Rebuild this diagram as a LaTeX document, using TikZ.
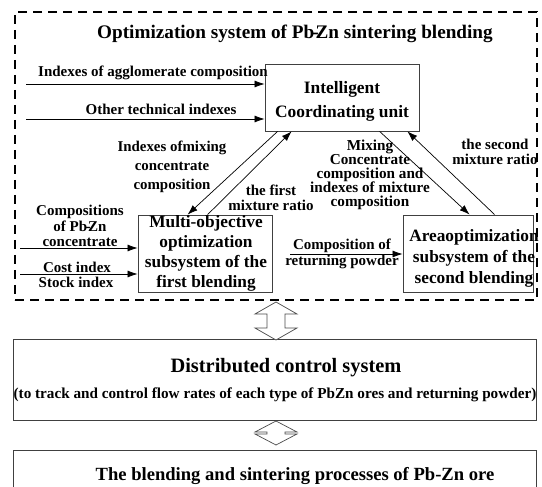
\documentclass[tikz,border=0pt]{standalone}
\usepackage{fontspec}
\setmainfont{Liberation Serif}
\usetikzlibrary{arrows.meta,calc}
\begin{document}
\begin{tikzpicture}[x=1pt,y=-1pt,
  blk/.style={draw=black!75, line width=0.8pt, inner sep=0pt},
  lbl/.style={font=\bfseries\fontsize{15}{15.5}\selectfont, align=center, inner sep=0pt},
  big/.style={font=\bfseries\fontsize{17.3}{20}\selectfont, align=center, inner sep=0pt},
  arr/.style={-{Latex[length=10pt,width=7pt]}, line width=0.7pt},
  hollow/.style={draw=black!70, fill=white, line width=0.7pt, line join=miter}]
\useasboundingbox (0,0) rectangle (542,487);
\clip (0,0) rectangle (542,487);

% optimization system frame
\node[draw, line width=2.6pt, dash pattern=on 9pt off 6pt, minimum width=522pt,
      minimum height=288pt, inner sep=0pt] (opt) at (276,156) {};
\node[font=\bfseries\fontsize{19.2}{21}\selectfont, inner sep=0pt] (title) at (295,34)
  {Optimization system of Pb\kern-2pt-\kern-3ptZn sintering blending};

% blocks
\node[blk, minimum width=154pt, minimum height=67pt] (intel) at (342,97.5) {};
\node[big, font=\bfseries\fontsize{17.4}{24}\selectfont] (inteltxt) at (342,101) {Intelligent\\Coordinating unit};
\node[blk, minimum width=134pt, minimum height=77pt] (multi) at (205,253.5) {};
\node[big] (multitxt) at (206,253) {Multi-objective\\optimization\\subsystem of the\\first blending};
\node[blk, minimum width=130pt, minimum height=77pt] (area) at (468,253.5) {};
\node[big, font=\bfseries\fontsize{17.3}{21}\selectfont] (areatxt) at (474,258) {Areaoptimization\\subsystem of the\\second blending};

\node[blk, minimum width=523pt, minimum height=81pt] (dcs) at (274.5,379.5) {};
\node[font=\bfseries\fontsize{20.4}{22}\selectfont, inner sep=0pt] (dcstxt) at (286,368) {Distributed control system};
\node[font=\bfseries\fontsize{15.2}{16}\selectfont, inner sep=0pt] (dcssub) at (275,395)
  {(to track and control flow rates of each type of PbZn ores and returning powder)};
\node[blk, minimum width=523pt, minimum height=80pt] (proc) at (274.5,490) {};
\node[font=\bfseries\fontsize{18.6}{20}\selectfont, inner sep=0pt] (proctxt) at (295,476)
  {The blending and sintering processes of Pb-Zn ore};

% external inputs
\coordinate (in1) at (26,84);
\coordinate (in2) at (26,119);
\coordinate (in3) at (20,248);
\coordinate (in4) at (20,274);
\coordinate (in5) at (290,254);
\draw[arr] (in1) -- (in1 -| intel.west);
\draw[arr] (in2) -- (in2 -| intel.west);
\draw[arr] (in3) -- (in3 -| multi.west);
\draw[arr] (in4) -- (in4 -| multi.west);
\draw[arr] (in5) -- (in5 -| area.west);

\node[lbl] (l1) at (153,73) {Indexes of agglomerate composition};
\node[lbl] (l2) at (161,109) {Other technical indexes};
\node[lbl, font=\bfseries\fontsize{15}{15.5}\selectfont] (l3) at (80,226) {Compositions\\of Pb\kern-1.5pt-\kern-2.5ptZn\\concentrate};
\node[lbl] (l4) at (77,267) {Cost index};
\node[lbl] (l5) at (76,282) {Stock index};
\node[lbl, font=\bfseries\fontsize{15}{16}\selectfont] (l6) at (342,254) {Composition of\\returning powder};

% exchanges with the coordinating unit
\draw[arr] ($(intel.south west)+(13,0)$) -- ($(multi.north west)+(50,0)$);
\draw[arr] ($(multi.north west)+(70,0)$) -- ($(intel.south west)+(27,0)$);
\draw[arr] ($(intel.south west)+(115,0)$) -- ($(area.north west)+(67,0)$);
\draw[arr] ($(area.north west)+(92,0)$) -- ($(intel.south east)+(-12,0)$);

\node[lbl, font=\bfseries\fontsize{14.9}{19}\selectfont] (l7) at (172,167) {Indexes ofmixing\\concentrate\\composition};
\node[lbl] (l8) at (271,198) {the first\\mixture ratio};
\node[lbl, font=\bfseries\fontsize{15.2}{14}\selectfont] (l9) at (370,175) {Mixing\\Concentrate\\composition and\\indexes of mixture\\composition};
\node[lbl, font=\bfseries\fontsize{15}{14.5}\selectfont] (l10) at (495,152) {the second\\mixture ratio};

% hollow two-way arrows between the levels
\draw[hollow] (276,302) -- (297,314) -- (285,314) -- (285,328) -- (297,328) -- (276,340)
  -- (255,328) -- (267,328) -- (267,314) -- (255,314) -- cycle;
\draw[hollow] (276,421) -- (297,432) -- (285,432) -- (285,434) -- (297,434) -- (276,445)
  -- (255,434) -- (267,434) -- (267,432) -- (255,432) -- cycle;
\end{tikzpicture}
\end{document}
